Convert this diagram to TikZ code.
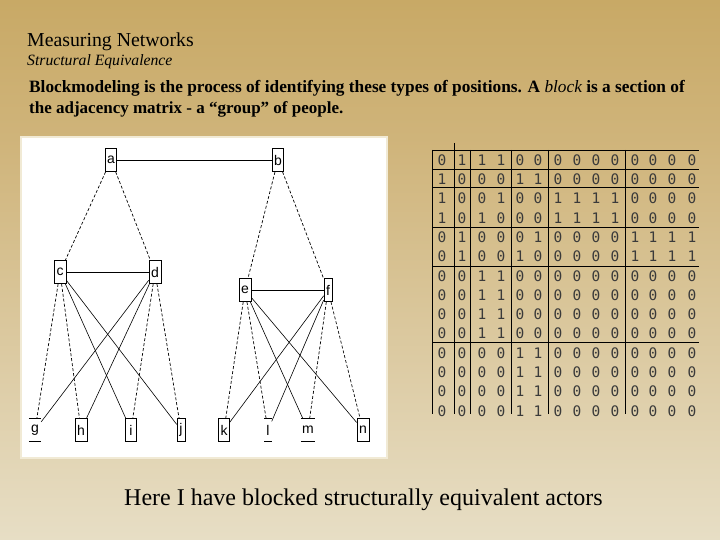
\documentclass[tikz,border=0pt]{standalone}
\usepackage{fontspec}
\setmainfont{Liberation Serif}
\newfontfamily\lsans{Liberation Sans}
\newfontfamily\dmono{DejaVu Sans Mono}
\definecolor{bgA}{HTML}{C8A966}
\definecolor{bgB}{HTML}{D0B57C}
\definecolor{bgC}{HTML}{E7DEC5}
\definecolor{panelborder}{HTML}{F1EAD5}
\definecolor{digit}{HTML}{3A3A3A}
\begin{document}
\begin{tikzpicture}[x=1pt,y=-1pt,
  gnode/.style={draw, line width=0.7pt, minimum height=23pt, inner sep=0pt, fill=white,
    font=\lsans\fontsize{14}{14}\selectfont},
  gopen/.style={minimum height=23pt, inner sep=0pt,
    font=\lsans\fontsize{14}{14}\selectfont},
  solidedge/.style={line width=0.6pt},
  dashedge/.style={line width=0.7pt, dash pattern=on 3pt off 2pt},
  mline/.style={line width=0.8pt},
  digitnode/.style={inner sep=0pt, text=digit, font=\dmono\fontsize{14.5}{14.5}\selectfont},
  headtext/.style={anchor=base west, inner sep=0pt}]
\useasboundingbox (0,0) rectangle (720,540);
% background
\shade[top color=bgA, bottom color=bgB] (0,0) rectangle (720,151);
\shade[top color=bgB, bottom color=bgC] (0,150) rectangle (720,540);

% header texts
\node[headtext, font=\fontsize{19.8}{22}\selectfont] (t1) at (27,47) {Measuring Networks};
\node[headtext, font=\fontsize{15.7}{18}\selectfont\itshape] (t2) at (27,66) {Structural Equivalence};
\node[headtext, font=\fontsize{17.3}{21}\selectfont\bfseries] (t3) at (29,93)
  {Blockmodeling is the process of identifying these types of positions. A {\mdseries\itshape block} is a section of};
\node[headtext, font=\fontsize{17}{21}\selectfont\bfseries] (t4) at (29,114)
  {the adjacency matrix - a “group” of people.};
\node[headtext, font=\fontsize{24}{28}\selectfont] (t5) at (124,505)
  {Here I have blocked structurally equivalent actors};

% graph panel
\draw[fill=white, draw=panelborder, line width=2.5pt] (21,137) rectangle (387,458);

\node[gnode, minimum width=11pt] (a) at (111,160) {a};
\node[gnode, minimum width=11pt] (b) at (278,160) {b};
\node[gnode, minimum width=12pt] (c) at (60,272) {c};
\node[gnode, minimum width=12pt] (d) at (155,272) {d};
\node[gnode, minimum width=12pt] (e) at (245,290) {e};
\node[gnode, minimum width=8pt] (f) at (328,290) {f};
\node[gopen, minimum width=12pt] (g) at (35,430) {g};
\node[gnode, minimum width=12pt] (h) at (81,430) {h};
\node[gnode, minimum width=11pt] (i) at (131,430) {i};
\node[gnode, minimum width=8pt] (j) at (181,430) {j};
\node[gnode, minimum width=11pt] (k) at (224,430) {k};
\node[gopen, minimum width=7pt] (l) at (268,430) {l};
\node[gopen, minimum width=14pt] (m) at (308,430) {m};
\node[gnode, minimum width=12pt] (n) at (363,430) {n};
\foreach \nn in {g,l,m}{
  \draw[line width=0.7pt] (\nn.north west) -- (\nn.north east) (\nn.south west) -- (\nn.south east);
}

\draw[solidedge] (a) -- (b);
\draw[dashedge] (a) -- (c);
\draw[dashedge] (a) -- (d);
\draw[dashedge] (b) -- (e);
\draw[dashedge] (b) -- (f);
\draw[solidedge] (c) -- (d);
\draw[solidedge] (e) -- (f);
\draw[dashedge] (c) -- (g);
\draw[dashedge] (c) -- (h);
\draw[solidedge] (c) -- (i);
\draw[solidedge] (c) -- (j);
\draw[solidedge] (d) -- (g);
\draw[solidedge] (d) -- (h);
\draw[dashedge] (d) -- (i);
\draw[dashedge] (d) -- (j);
\draw[dashedge] (e) -- (k);
\draw[dashedge] (e) -- (l);
\draw[solidedge] (e) -- (m);
\draw[solidedge] (e) -- (n);
\draw[solidedge] (f) -- (k);
\draw[solidedge] (f) -- (l);
\draw[dashedge] (f) -- (m);
\draw[dashedge] (f) -- (n);

% adjacency matrix
\begin{scope}
\clip (420,135) rectangle (715,416);
\foreach \row [count=\r] in {
  {0,1,1,1,0,0,0,0,0,0,0,0,0,0},
  {1,0,0,0,1,1,0,0,0,0,0,0,0,0},
  {1,0,0,1,0,0,1,1,1,1,0,0,0,0},
  {1,0,1,0,0,0,1,1,1,1,0,0,0,0},
  {0,1,0,0,0,1,0,0,0,0,1,1,1,1},
  {0,1,0,0,1,0,0,0,0,0,1,1,1,1},
  {0,0,1,1,0,0,0,0,0,0,0,0,0,0},
  {0,0,1,1,0,0,0,0,0,0,0,0,0,0},
  {0,0,1,1,0,0,0,0,0,0,0,0,0,0},
  {0,0,1,1,0,0,0,0,0,0,0,0,0,0},
  {0,0,0,0,1,1,0,0,0,0,0,0,0,0},
  {0,0,0,0,1,1,0,0,0,0,0,0,0,0},
  {0,0,0,0,1,1,0,0,0,0,0,0,0,0},
  {0,0,0,0,1,1,0,0,0,0,0,0,0,0}}{
  \foreach \v [count=\c] in \row {
    \pgfmathsetmacro\cx{{442,462,482,501,520,538,558,577,596,615,635,653,672,692}[\c-1]}
    \pgfmathsetmacro\cy{160+(\r-1)*19.3}
    \node[digitnode] (m-\r-\c) at (\cx,\cy) {\v};
  }
}
\end{scope}
\foreach \yy in {150,169,187,227,266,342}{
  \draw[mline] (432,\yy) -- (699,\yy);
}
\draw[mline] (454,143) -- (454,414);
\foreach \xx in {432,470,511,548,625}{
  \draw[mline] (\xx,150) -- (\xx,414);
}
\end{tikzpicture}
\end{document}
